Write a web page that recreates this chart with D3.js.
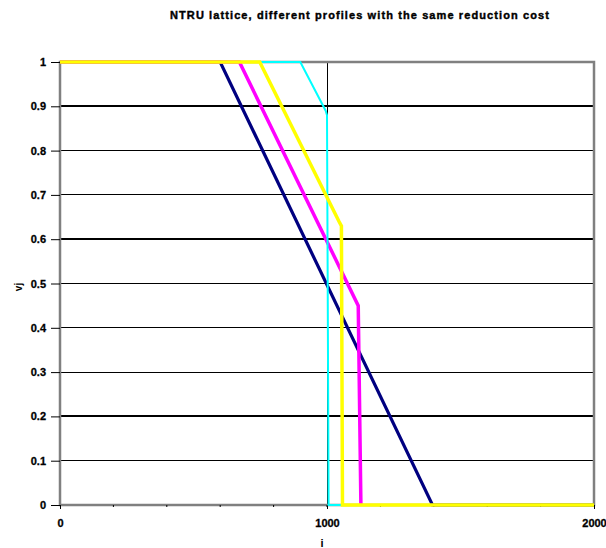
<!DOCTYPE html>
<html>
<head>
<meta charset="utf-8">
<script src="https://cdn.jsdelivr.net/npm/d3@7"></script>
<style>
  body { margin: 0; background: #fff; }
  text { font-family: Arial, "Liberation Sans", sans-serif; font-weight: bold; fill: #000; }
</style>
</head>
<body>
<div id="chart"></div>
<script>
const title = "NTRU lattice, different profiles with the same reduction cost";
const xLabel = "i";
const yLabel = "vj";

// profiles: [i, v_j]
const navy = [[0, 1], [600, 1], [1395, 0], [2000, 0]];
const magenta = [[0, 1], [672, 1], [1117, 0.45], [1127, 0]];
const yellow = [[0, 1], [748, 1], [1045, 0.64], [1054, 0.63], [1058, 0], [2000, 0]];
const cyan = [[0, 1], [900, 1], [995, 0.89], [1000, 0.88], [1006, 0], [2000, 0]];

const series = [
  { name: "navy", values: navy, color: "#000080", width: 3.2 },
  { name: "magenta", values: magenta, color: "#ff00ff", width: 3.5 },
  { name: "cyan", values: cyan, color: "#00ffff", width: 2 },
  { name: "yellow", values: yellow, color: "#ffff00", width: 3.5 }
];

const yTicks = [0, 0.1, 0.2, 0.3, 0.4, 0.5, 0.6, 0.7, 0.8, 0.9, 1];
const thickGrid = [0.9, 0.6, 0.2];
const xMajor = [0, 1000, 2000];
const xMinor = d3.range(200, 2000, 200);

const width = 606, height = 548;
const svg = d3.select("#chart").append("svg")
  .attr("width", width)
  .attr("height", height);

const x = d3.scaleLinear().domain([0, 2000]).range([60, 594]);
const y = d3.scaleLinear().domain([0, 1]).range([505, 62]);

// title
svg.append("text")
  .attr("x", 360).attr("y", 19)
  .attr("text-anchor", "middle")
  .style("font-size", "11px")
  .style("letter-spacing", "1.1px")
  .style("stroke", "#000").style("stroke-width", "0.4px")
  .text(title);

// horizontal grid
svg.append("g").selectAll("line")
  .data(yTicks.filter(d => d > 0 && d < 1))
  .enter().append("line")
  .attr("x1", x(0)).attr("x2", x(2000))
  .attr("y1", d => y(d)).attr("y2", d => y(d))
  .attr("stroke", "#000")
  .attr("stroke-width", d => thickGrid.includes(d) ? 2 : 1)
  .attr("shape-rendering", "crispEdges");

// vertical grid at 1000
svg.append("line")
  .attr("x1", x(1000)).attr("x2", x(1000))
  .attr("y1", y(1)).attr("y2", y(0))
  .attr("stroke", "#000").attr("stroke-width", 1)
  .attr("shape-rendering", "crispEdges");

// plot frame (gray)
svg.append("rect")
  .attr("x", x(0)).attr("y", y(1))
  .attr("width", x(2000) - x(0)).attr("height", y(0) - y(1))
  .attr("fill", "none")
  .attr("stroke", "#808080").attr("stroke-width", 2.5);

// y axis
const yAxis = d3.axisLeft(y).tickValues(yTicks).tickSize(9).tickPadding(5)
  .tickFormat(d => d3.format("")(+d.toFixed(1)));
const ya = svg.append("g").attr("transform", `translate(${x(0)},0)`).call(yAxis);
ya.select(".domain").remove();
ya.selectAll("line").attr("stroke", "#000");
ya.selectAll("text").style("font-size", "11px").style("font-family", "Arial, 'Liberation Sans', sans-serif")
  .style("stroke", "#000").style("stroke-width", "0.3px");

// x axis
const xAxis = d3.axisBottom(x).tickValues(xMajor).tickSize(4).tickPadding(10)
  .tickFormat(d3.format("d"));
const xa = svg.append("g").attr("transform", `translate(0,${y(0)})`).call(xAxis);
xa.select(".domain").remove();
xa.selectAll("line").attr("stroke", "#000");
xa.selectAll("text").style("font-size", "11px").style("font-family", "Arial, 'Liberation Sans', sans-serif")
  .style("stroke", "#000").style("stroke-width", "0.3px");

svg.append("g").selectAll("line")
  .data(xMinor)
  .enter().append("line")
  .attr("x1", d => x(d)).attr("x2", d => x(d))
  .attr("y1", y(0)).attr("y2", y(0) + 2)
  .attr("stroke", "#000");

// curves
const line = d3.line()
  .x(d => x(d[0]))
  .y(d => y(d[1]));

svg.append("g").selectAll("path")
  .data(series)
  .enter().append("path")
  .attr("d", d => line(d.values))
  .attr("fill", "none")
  .attr("stroke", d => d.color)
  .attr("stroke-width", d => d.width)
  .attr("stroke-linejoin", "miter");

// axis labels
svg.append("text")
  .attr("transform", `translate(22,287) rotate(-90)`)
  .attr("text-anchor", "middle")
  .style("font-size", "10px")
  .text(yLabel);

svg.append("text")
  .attr("x", 322).attr("y", 547)
  .attr("text-anchor", "middle")
  .style("font-size", "11px")
  .text(xLabel);
</script>
</body>
</html>
